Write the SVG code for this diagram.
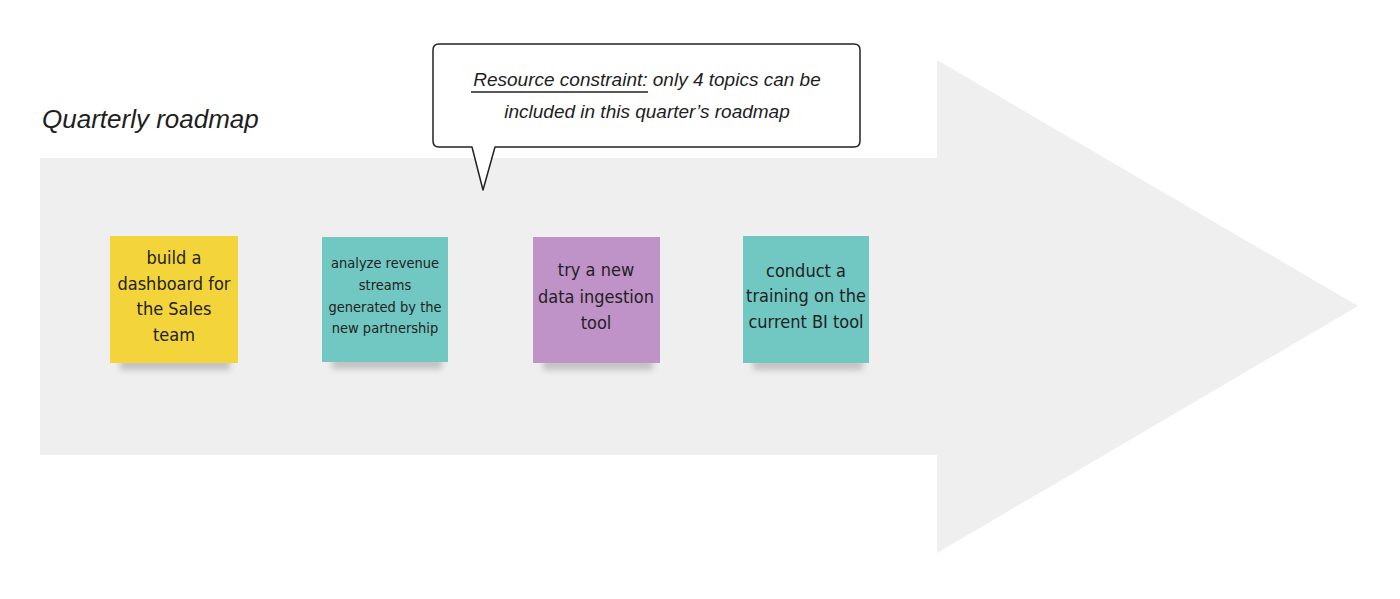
<svg xmlns="http://www.w3.org/2000/svg" width="1400" height="599" viewBox="0 0 1400 599">
<style>
.hand{font-family:"Liberation Sans",Arial,sans-serif;font-style:italic;fill:#1e1e1e}
.note{font-family:"Liberation Sans Narrow","DejaVu Sans Condensed","Liberation Sans",sans-serif;fill:#222;text-anchor:middle}
.shadow{fill:#8a8a8a;opacity:0.45;filter:url(#blur)}
</style>
<defs>
<filter id="blur" x="-20%" y="-50%" width="140%" height="200%"><feGaussianBlur stdDeviation="3"/></filter>
</defs>
<rect width="1400" height="599" fill="#ffffff"/>
<g id="arrow">
<polygon points="40,158 937,158 937,60 1358,306 937,553 937,455 40,455" fill="#efefef"/>
</g>
<g id="title">
<text class="hand" x="42" y="128" font-size="26">Quarterly roadmap</text>
</g>
<g id="callout">
<path d="M439,44 H854 Q860,44 860,50 V141 Q860,147 854,147 H495 L483,190 L472,147 H439 Q433,147 433,141 V50 Q433,44 439,44 Z" fill="#ffffff" stroke="#222" stroke-width="1.5" stroke-linejoin="round"/>
<text class="hand" x="647" y="86" font-size="19" text-anchor="middle">Resource constraint: only 4 topics can be</text>
<line x1="471" y1="92" x2="648" y2="92" stroke="#222" stroke-width="1.3"/>
<text class="hand" x="647" y="118" font-size="19" text-anchor="middle">included in this quarter’s roadmap</text>
</g>
<g id="note1">
<rect class="shadow" x="120" y="358" width="110" height="12"/>
<rect x="110" y="236" width="128" height="127" fill="#f3d43b"/>
<text class="note" font-size="18"><tspan x="174" y="264">build a</tspan><tspan x="174" y="290">dashboard for</tspan><tspan x="174" y="315">the Sales</tspan><tspan x="174" y="341">team</tspan></text>
</g>
<g id="note2">
<rect class="shadow" x="332" y="357" width="110" height="12"/>
<rect x="322" y="237" width="126" height="125" fill="#71c7c1"/>
<text class="note" font-size="14.5"><tspan x="385" y="268">analyze revenue</tspan><tspan x="385" y="290">streams</tspan><tspan x="385" y="312">generated by the</tspan><tspan x="385" y="333">new partnership</tspan></text>
</g>
<g id="note3">
<rect class="shadow" x="543" y="358" width="110" height="12"/>
<rect x="533" y="237" width="127" height="126" fill="#bf93c8"/>
<text class="note" font-size="18"><tspan x="596" y="276">try a new</tspan><tspan x="596" y="303">data ingestion</tspan><tspan x="596" y="329">tool</tspan></text>
</g>
<g id="note4">
<rect class="shadow" x="753" y="358" width="110" height="12"/>
<rect x="743" y="236" width="126" height="127" fill="#71c7c1"/>
<text class="note" font-size="18"><tspan x="806" y="277">conduct a</tspan><tspan x="806" y="302">training on the</tspan><tspan x="806" y="328">current BI tool</tspan></text>
</g>
<g id="connectors"></g>
</svg>
